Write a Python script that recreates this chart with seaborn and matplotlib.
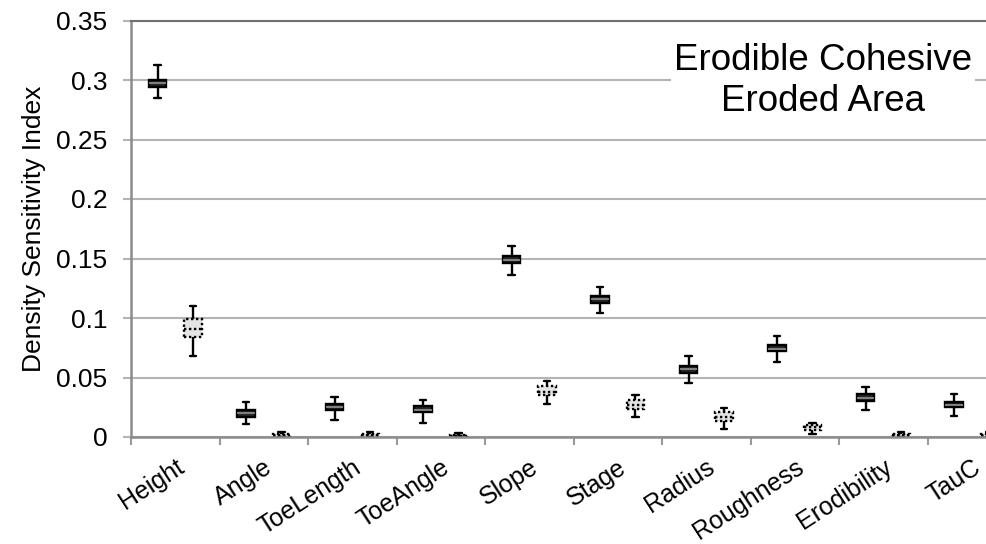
import numpy as np
import pandas as pd
import matplotlib
matplotlib.use("Agg")
import matplotlib.pyplot as plt
import seaborn as sns
from matplotlib.ticker import FixedLocator, NullFormatter

categories = ["Height", "Angle", "ToeLength", "ToeAngle", "Slope", "Stage",
              "Radius", "Roughness", "Erodibility", "TauC"]

# five-number summaries: [whisker low, Q1, median, Q3, whisker high]
first_order = [
    [0.285, 0.2945, 0.2975, 0.300, 0.313],
    [0.011, 0.017, 0.020, 0.0224, 0.029],
    [0.014, 0.0229, 0.025, 0.0277, 0.034],
    [0.012, 0.021, 0.023, 0.026, 0.031],
    [0.1365, 0.1466, 0.149, 0.152, 0.1605],
    [0.1046, 0.113, 0.116, 0.1185, 0.126],
    [0.045, 0.054, 0.057, 0.060, 0.068],
    [0.063, 0.072, 0.074, 0.077, 0.085],
    [0.0224, 0.0305, 0.033, 0.036, 0.0422],
    [0.0176, 0.025, 0.027, 0.0296, 0.036],
]
total_order = [
    [0.068, 0.0837, 0.091, 0.0988, 0.110],
    [0.0, 0.0008, 0.0015, 0.0025, 0.004],
    [0.0, 0.0008, 0.0015, 0.0025, 0.004],
    [0.0, 0.0006, 0.0012, 0.002, 0.003],
    [0.0274, 0.035, 0.038, 0.043, 0.0472],
    [0.0168, 0.0235, 0.027, 0.031, 0.0352],
    [0.0067, 0.0134, 0.017, 0.0212, 0.0246],
    [0.0025, 0.006, 0.008, 0.010, 0.012],
    [0.0, 0.0008, 0.0015, 0.0025, 0.004],
    [0.0, 0.0008, 0.0015, 0.0025, 0.004],
]
series_names = ["First", "Total"]
y_ticks = [0, 0.05, 0.1, 0.15, 0.2, 0.25, 0.3, 0.35]
y_tick_labels = ["0", "0.05", "0.1", "0.15", "0.2", "0.25", "0.3", "0.35"]
annotation = "Erodible Cohesive\nEroded Area"
y_label = "Density Sensitivity Index"

rows = []
for s_name, s_vals in zip(series_names, [first_order, total_order]):
    for cat, vals in zip(categories, s_vals):
        for v in vals:
            rows.append({"cat": cat, "val": v, "series": s_name})
df = pd.DataFrame(rows)

sns.set_theme(style="white")
plt.rcParams["font.family"] = ["Liberation Sans", "DejaVu Sans"]
plt.rcParams["text.color"] = "black"
plt.rcParams["axes.labelcolor"] = "black"
plt.rcParams["xtick.labelcolor"] = "black"
plt.rcParams["ytick.labelcolor"] = "black"

W, H, DPI = 987, 544, 100
fig = plt.figure(figsize=(W / DPI, H / DPI), dpi=DPI)
ax_left, ax_right, ax_top, ax_bottom = 131, 1016, 20.5, 437
ax = fig.add_axes([ax_left / W, (H - ax_bottom) / H,
                   (ax_right - ax_left) / W, (ax_bottom - ax_top) / H])

face = {"First": "#262626", "Total": "#e4e4e4"}
sns.boxplot(data=df, x="cat", y="val", hue="series", hue_order=series_names,
            order=categories, whis=(0, 100), width=0.8, gap=0.5, dodge=True,
            showfliers=False, legend=False, ax=ax, linewidth=1.7,
            linecolor="black", palette=face, saturation=1)

# restyle per series (second series: dotted outline & median)
dot = (0, (1, 1.1))
for p in ax.patches:
    xs = p.get_transform().transform(p.get_path().vertices)
    xd = ax.transData.inverted().transform(xs)[:, 0]
    xc = (xd.min() + xd.max()) / 2
    if xc > round(xc):
        p.set_linestyle(dot)
        p.set_edgecolor("black")

groups = {}
for ln in ax.lines:
    x = np.asarray(ln.get_xdata(), float)
    if len(x) < 2:
        continue
    xc = round(float((x.min() + x.max()) / 2), 3)
    groups.setdefault(xc, []).append(ln)

for xc, lines in groups.items():
    horiz = [l for l in lines if np.ptp(np.asarray(l.get_xdata(), float)) > 0]
    if not horiz:
        continue
    ys = [float(np.mean(l.get_ydata())) for l in horiz]
    lo_i, hi_i = int(np.argmin(ys)), int(np.argmax(ys))
    second = xc > round(xc)
    for i, l in enumerate(horiz):
        x = np.asarray(l.get_xdata(), float)
        if i in (lo_i, hi_i) and len(horiz) >= 3:
            c = (x.min() + x.max()) / 2
            half = (x.max() - x.min()) / 2 * 0.7
            l.set_xdata([c - half, c + half])
            l.set_color("black")
        else:
            if second:
                l.set_linestyle(dot)
                l.set_color("black")
            else:
                l.set_color("#8a8a8a")
                l.set_linewidth(1.3)

ax.set_xlim(-0.5, len(categories) - 0.5)
ax.set_ylim(0, 0.35)

# y axis
ax.yaxis.set_major_locator(FixedLocator(y_ticks))
ax.set_yticklabels(y_tick_labels)
ax.grid(axis="y", color="#b4b4b4", linewidth=1.5)
ax.set_axisbelow(True)
ax.tick_params(axis="y", which="major", length=6, width=1.5, color="#b4b4b4",
               pad=11, labelsize=19, labelcolor="black", left=True)

# x axis: ticks at boundaries, labels at centers
ax.xaxis.set_major_locator(FixedLocator(np.arange(-0.5, len(categories) + 0.5, 1)))
ax.xaxis.set_major_formatter(NullFormatter())
ax.set_xticks(np.arange(len(categories)), minor=True)
ax.set_xticklabels(categories, minor=True, rotation=33, ha="right",
                   rotation_mode="anchor", fontsize=18, color="black")
ax.tick_params(axis="x", which="major", length=6, width=1.5, color="#9a9a9a", bottom=True)
ax.tick_params(axis="x", which="minor", length=0, pad=13, bottom=True)
ax.set_xlabel("")
ax.set_ylabel(y_label, fontsize=19, labelpad=7, color="black")

for side in ["left", "bottom"]:
    ax.spines[side].set_color("#8c8c8c")
    ax.spines[side].set_linewidth(1.8)
ax.spines["right"].set_visible(False)
ax.spines["top"].set_color("#707070")
ax.spines["top"].set_linewidth(1.5)

ax.text(7.32, 0.299, annotation, fontsize=26.5, ha="center", va="center",
        multialignment="center", linespacing=1.2, color="black",
        bbox=dict(facecolor="white", edgecolor="none", pad=2), zorder=5)

fig.savefig("out.png", dpi=DPI)
